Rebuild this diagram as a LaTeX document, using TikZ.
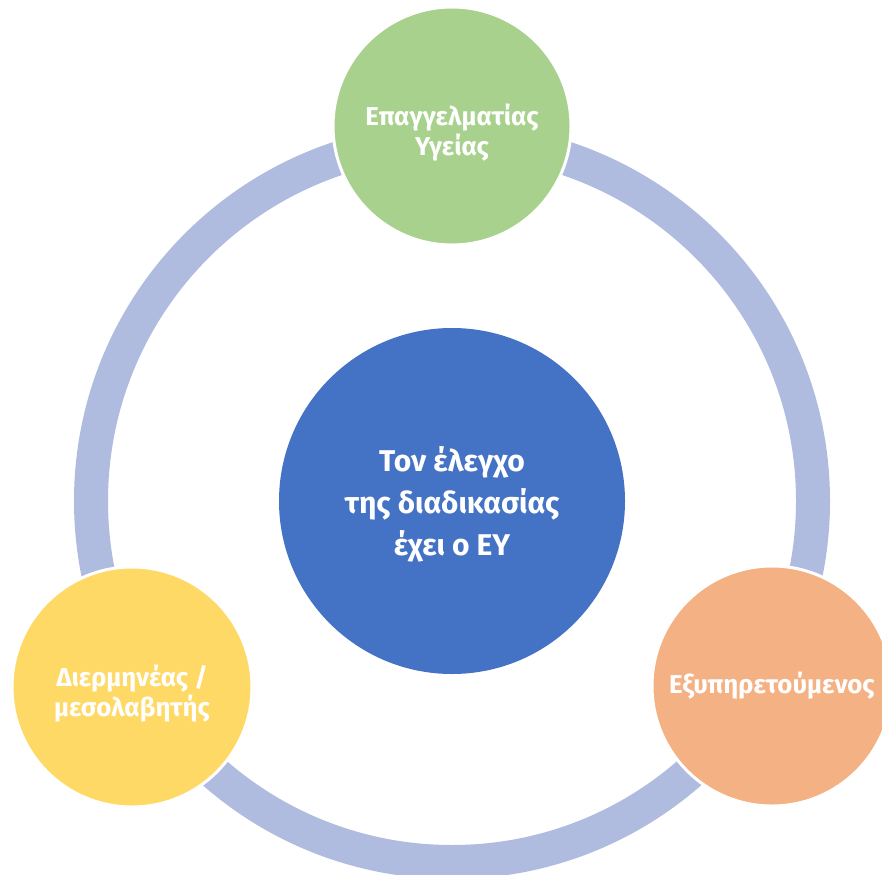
\documentclass[tikz,border=0pt]{standalone}
\usepackage{fontspec}
\setmainfont{Fira Sans}
\definecolor{ringc}{RGB}{175,187,223}
\definecolor{bluec}{RGB}{68,114,196}
\definecolor{greenc}{RGB}{169,209,142}
\definecolor{yellowc}{RGB}{255,217,102}
\definecolor{orangec}{RGB}{244,177,131}
\begin{document}
\begin{tikzpicture}[x=1pt,y=-1pt,
  ball/.style={circle,draw=white,line width=3pt,inner sep=0pt},
  balltext/.style={text=white,align=center,inner sep=0pt,font=\bfseries\fontsize{25.8}{30}\selectfont},
  hub/.style={circle,inner sep=0pt},
  hubtext/.style={text=white,align=center,inner sep=0pt,font=\bfseries\fontsize{30}{42}\selectfont}]
\useasboundingbox (0,0) rectangle (882,874);
\coordinate (rc) at (452,501);
\draw[ringc,line width=34pt] (rc) circle[radius=361];
\node[hub,fill=bluec,minimum size=346pt] (hubn) at (452,501) {};
\node[ball,fill=greenc,minimum size=238pt] (hp) at (452,126) {};
\node[ball,fill=yellowc,minimum size=240pt] (ip) at (132,687) {};
\node[ball,fill=orangec,minimum size=240pt] (cl) at (772,686) {};
\node[hubtext,yshift=-3pt] (hubt) at (hubn) {Τον έλεγχο\\της διαδικασίας\\έχει ο ΕΥ};
\node[balltext,yshift=-7pt] (hpt) at (hp) {Επαγγελματίας\\Υγείας};
\node[balltext,yshift=-7pt] (ipt) at (ip) {Διερμηνέας /\\μεσολαβητής};
\node[balltext] (clt) at (cl) {Εξυπηρετούμενος};
\end{tikzpicture}
\end{document}
